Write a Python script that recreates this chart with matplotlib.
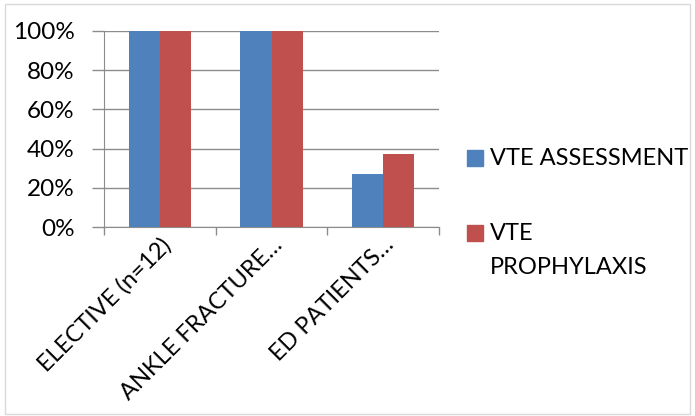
import numpy as np
import matplotlib
matplotlib.use("Agg")
import matplotlib.pyplot as plt
from matplotlib.patches import Rectangle
from matplotlib.ticker import PercentFormatter

plt.rcParams['font.family'] = ['Lato', 'DejaVu Sans']

categories = ["ELECTIVE (n=12)", "ANKLE FRACTURE…", "ED PATIENTS…"]
assessment = [100, 100, 27]
prophylaxis = [100, 100, 37]
series_names = ["VTE ASSESSMENT", "VTE\nPROPHYLAXIS"]
colors = ["#4F81BD", "#C0504D"]

fig = plt.figure(figsize=(6.95, 4.16), dpi=100)
ax = fig.add_axes([0.1496, 0.4543, 0.4821, 0.4712])

x = np.arange(len(categories))
w = 0.28
ax.bar(x - w / 2, assessment, w, color=colors[0], zorder=3)
ax.bar(x + w / 2, prophylaxis, w, color=colors[1], zorder=3)

ax.set_xlim(-0.5, len(categories) - 0.5)
ax.set_ylim(0, 100)
ax.set_yticks(np.arange(0, 101, 20))
ax.yaxis.set_major_formatter(PercentFormatter(decimals=0))
ax.grid(axis='y', color='#8c8c8c', linewidth=1, zorder=0)

# category labels at centers, tick marks at the boundaries
ax.set_xticks(x)
ax.set_xticklabels(categories, rotation=45, ha='right', va='top',
                   rotation_mode='anchor', fontsize=17)
ax.set_xticks(np.arange(-0.5, len(categories)), minor=True)
ax.tick_params(axis='x', which='major', length=0, pad=5)
ax.tick_params(axis='x', which='minor', length=6, color='#8c8c8c', width=1)
ax.tick_params(axis='y', length=9, color='#8c8c8c', width=1, labelsize=17.5, pad=12)

for s in ['top', 'right']:
    ax.spines[s].set_visible(False)
for s in ['left', 'bottom']:
    ax.spines[s].set_color('#8c8c8c')

# legend
leg_y = [158 / 416, 233 / 416]
for name, c, yy in zip(series_names, colors, leg_y):
    fig.patches.append(Rectangle((467 / 695, 1 - yy - 8 / 416), 16 / 695, 16 / 416,
                                 transform=fig.transFigure, color=c))
    fig.text(490 / 695, 1 - yy + 10 / 416, name, fontsize=17, va='top', ha='left',
             linespacing=1.75)

# chart border
fig.patches.append(Rectangle((5 / 695, 2 / 416), 685 / 695, 410 / 416,
                             transform=fig.transFigure, fill=False,
                             edgecolor='#d9d9d9', linewidth=1))

fig.savefig("out.png", dpi=100)
